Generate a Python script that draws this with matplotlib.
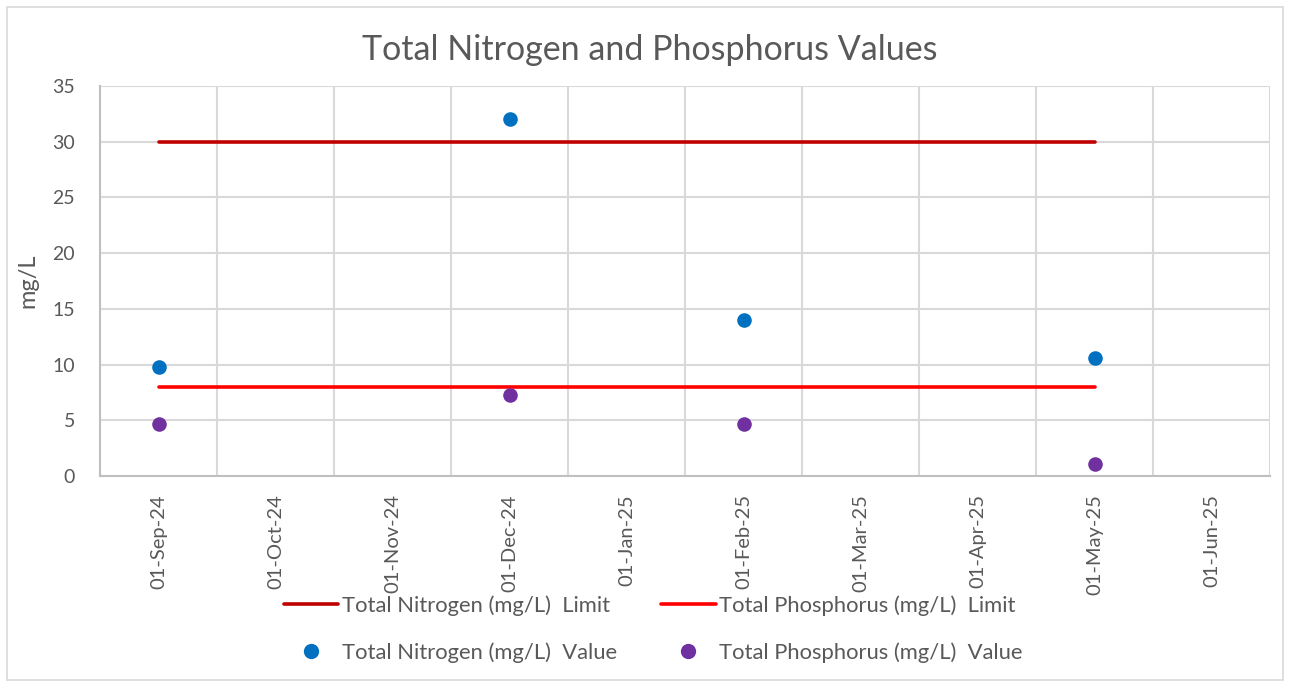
import matplotlib
matplotlib.use("Agg")
import matplotlib.pyplot as plt
from matplotlib.lines import Line2D
from matplotlib.patches import Rectangle

plt.rcParams['font.family'] = ['Lato', 'DejaVu Sans']

# ---- data ----
month_labels = ['01-Sep-24', '01-Oct-24', '01-Nov-24', '01-Dec-24', '01-Jan-25',
                '01-Feb-25', '01-Mar-25', '01-Apr-25', '01-May-25', '01-Jun-25']
sample_dates = ['01-Sep-24', '01-Dec-24', '01-Feb-25', '01-May-25']
nitrogen_values = [9.8, 32.0, 14.0, 10.6]
phosphorus_values = [4.7, 7.3, 4.7, 1.1]
nitrogen_limit = [30, 30, 30, 30]
phosphorus_limit = [8, 8, 8, 8]

x = [month_labels.index(d) for d in sample_dates]

TXT = '#595959'
fig = plt.figure(figsize=(12.9, 6.81), dpi=100)
ax = fig.add_axes([100/1290, 1-476/681, 1170/1290, 390/681])

l1, = ax.plot(x, nitrogen_limit, color='#C00000', lw=2.6, solid_capstyle='round', zorder=3)
l2, = ax.plot(x, phosphorus_limit, color='#FF0000', lw=2.6, solid_capstyle='round', zorder=3)
s1 = ax.scatter(x, nitrogen_values, s=110, color='#0070C0', zorder=4, linewidths=0)
s2 = ax.scatter(x, phosphorus_values, s=110, color='#7030A0', zorder=4, linewidths=0)

ax.set_xlim(-0.5, len(month_labels) - 0.5)
ax.set_ylim(0, 35)
ax.set_yticks(range(0, 36, 5))
ax.set_xticks(range(len(month_labels)))
ax.set_xticklabels(month_labels, rotation=90, fontsize=14.5, color=TXT)
ax.set_xticks([i + 0.5 for i in range(-1, len(month_labels))], minor=True)
ax.tick_params(axis='y', labelsize=14, labelcolor=TXT, length=0, pad=18)
ax.tick_params(axis='x', which='both', length=0, pad=13)
ax.grid(axis='y', which='major', color='#D9D9D9', lw=1.5)
ax.grid(axis='x', which='minor', color='#D9D9D9', lw=1.5)
ax.grid(axis='x', which='major', visible=False)
ax.set_axisbelow(True)
for side in ['top', 'right']:
    ax.spines[side].set_visible(False)
for side in ['left', 'bottom']:
    ax.spines[side].set_color('#BFBFBF')
    ax.spines[side].set_linewidth(1.5)

ax.set_ylabel('mg/L', fontsize=17, color=TXT, labelpad=10)
fig.text(650/1290, 1-50/681, 'Total Nitrogen and Phosphorus Values', ha='center', va='center',
         fontsize=24.5, color=TXT)

handles = [l1, l2,
           Line2D([], [], ls='none', marker='o', ms=10, color='#0070C0'),
           Line2D([], [], ls='none', marker='o', ms=10, color='#7030A0')]
labels = ['Total Nitrogen (mg/L)  Limit', 'Total Phosphorus (mg/L)  Limit',
          'Total Nitrogen (mg/L)  Value', 'Total Phosphorus (mg/L)  Value']
# order so that rows are: limits, values
fig.legend([handles[0], handles[2], handles[1], handles[3]],
           [labels[0], labels[2], labels[1], labels[3]],
           ncol=2, loc='center', bbox_to_anchor=(653/1290, 1-629/681), frameon=False,
           fontsize=15.8, labelcolor=TXT, handlelength=2.5, handletextpad=0.15,
           columnspacing=2.0, labelspacing=1.2)

fig.add_artist(Rectangle((7/1290, 0.002), 1276/1290, 1-7/681 - 0.002, transform=fig.transFigure,
                         fill=False, edgecolor='#D9D9D9', lw=1.2))

fig.savefig('out.png', dpi=100, facecolor='white')
